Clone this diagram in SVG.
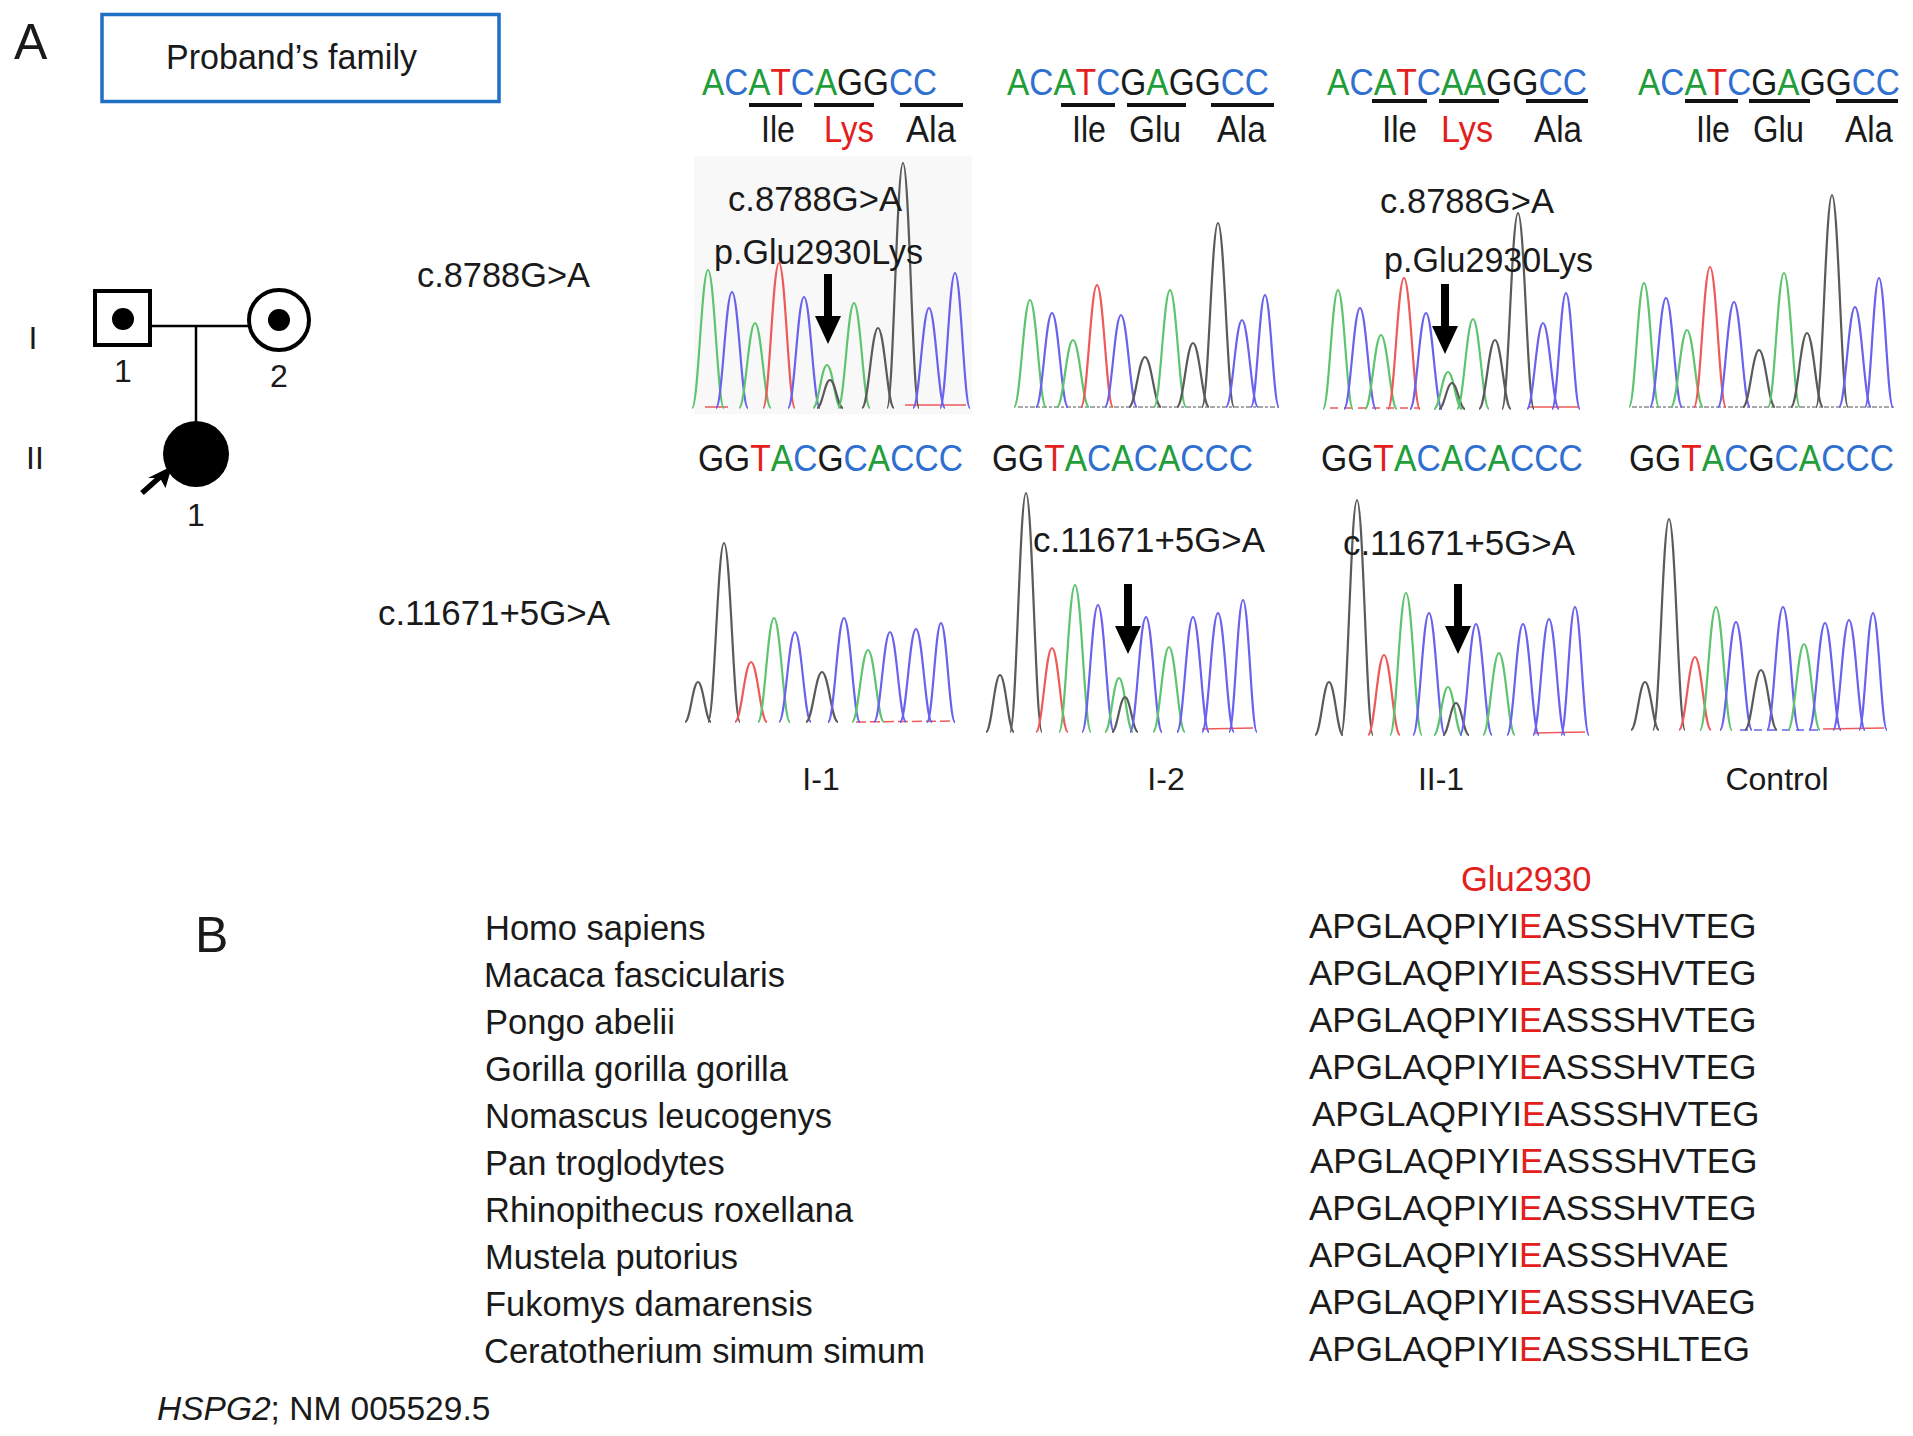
<svg xmlns="http://www.w3.org/2000/svg" xmlns:xlink="http://www.w3.org/1999/xlink" width="1913" height="1436" viewBox="0 0 1913 1436">
<style>
text{font-family:"Liberation Sans",Arial,Helvetica,sans-serif;fill:#1a1a1a}
.t34{font-size:35px}
.seq{font-size:37px}
.aa{font-size:36px}
.lbl{font-size:50px}
.gen{font-size:32px}
.sp{font-size:34.5px}
.ps{font-size:35px}
.nG{fill:#1f9e3a}.nC{fill:#2f6fd0}.nT{fill:#e3201c}.nK{fill:#1a1a1a}
.red{fill:#e3201c}
.bar{stroke:#111;stroke-width:4}
.pg{fill:none;stroke:#000;stroke-width:4}
.con{stroke:#000;stroke-width:2.5;fill:none}
.g{stroke:#5fc46f}.b{stroke:#6a62ee}.r{stroke:#ee5a5a}.k{stroke:#5a5a5a}
.tr use{fill:none;stroke-width:2.2}
.noise{stroke-width:1.5;fill:none}
.arr{fill:#000}
</style>
<defs>
<path id="pk" d="M-1,0 C-0.6,0 -0.4,-1 0,-1 C0.4,-1 0.6,0 1,0" vector-effect="non-scaling-stroke"/>
<path id="dn" d="M-4,0 H4 V42 H13 L0,70 L-13,42 H-4 Z"/>
</defs>
<rect width="1913" height="1436" fill="#fff"/>

<g id="label-A"><text class="lbl" x="14" y="59">A</text></g>
<g id="title-box">
<rect x="102" y="14.5" width="397" height="87" fill="none" stroke="#1f6fc5" stroke-width="3.5"/>
<text class="t34" x="166" y="69" textLength="251" lengthAdjust="spacingAndGlyphs">Proband’s family</text>
</g>

<g id="connectors">
<line class="con" x1="150" y1="326" x2="249" y2="326"/>
<line class="con" x1="196" y1="326" x2="196" y2="422"/>
</g>
<g id="pedigree-I-1">
<rect class="pg" x="95" y="291" width="55" height="54"/>
<circle cx="123" cy="319" r="11" fill="#000"/>
<text class="gen" x="123" y="382" text-anchor="middle">1</text>
</g>
<g id="pedigree-I-2">
<circle class="pg" cx="279" cy="320" r="30"/>
<circle cx="279" cy="320" r="11" fill="#000"/>
<text class="gen" x="279" y="387" text-anchor="middle">2</text>
</g>
<g id="pedigree-II-1">
<circle cx="196" cy="454" r="33" fill="#000"/>
<line x1="142" y1="493" x2="160" y2="477" stroke="#000" stroke-width="5.5"/>
<polygon points="172,466 165.5,488 160,478 148,478" fill="#000"/>
<text class="gen" x="196" y="526" text-anchor="middle">1</text>
</g>
<g id="generations">
<text class="gen" x="33" y="349" text-anchor="middle">I</text>
<text class="gen" x="35" y="469" text-anchor="middle">II</text>
</g>

<g id="row-labels">
<text class="t34" x="417" y="287" textLength="173" lengthAdjust="spacingAndGlyphs">c.8788G&gt;A</text>
<text class="t34" x="378" y="625" textLength="232" lengthAdjust="spacingAndGlyphs">c.11671+5G&gt;A</text>
</g>

<!-- top sequences -->
<g id="seq-top-1">
<text class="seq" transform="translate(702,95) scale(0.9,1)"><tspan class="nG">A</tspan><tspan class="nC">C</tspan><tspan class="nG">A</tspan><tspan class="nT">T</tspan><tspan class="nC">C</tspan><tspan class="nG">A</tspan><tspan class="nK">GG</tspan><tspan class="nC">CC</tspan></text>
<line class="bar" x1="749" y1="105" x2="802" y2="105"/><line class="bar" x1="814" y1="105" x2="874" y2="105"/><line class="bar" x1="900" y1="105" x2="963" y2="105"/>
<text class="aa" x="761" y="142" textLength="34" lengthAdjust="spacingAndGlyphs">Ile</text><text class="aa red" x="824" y="142" textLength="50" lengthAdjust="spacingAndGlyphs">Lys</text><text class="aa" x="906" y="142" textLength="50" lengthAdjust="spacingAndGlyphs">Ala</text>
</g>
<g id="seq-top-2">
<text class="seq" transform="translate(1007,95) scale(0.904,1)"><tspan class="nG">A</tspan><tspan class="nC">C</tspan><tspan class="nG">A</tspan><tspan class="nT">T</tspan><tspan class="nC">C</tspan><tspan class="nK">G</tspan><tspan class="nG">A</tspan><tspan class="nK">GG</tspan><tspan class="nC">CC</tspan></text>
<line class="bar" x1="1061" y1="105" x2="1115" y2="105"/><line class="bar" x1="1127" y1="105" x2="1186" y2="105"/><line class="bar" x1="1211" y1="105" x2="1274" y2="105"/>
<text class="aa" x="1072" y="142" textLength="34" lengthAdjust="spacingAndGlyphs">Ile</text><text class="aa" x="1129" y="142" textLength="52" lengthAdjust="spacingAndGlyphs">Glu</text><text class="aa" x="1217" y="142" textLength="49" lengthAdjust="spacingAndGlyphs">Ala</text>
</g>
<g id="seq-top-3">
<text class="seq" transform="translate(1327,95) scale(0.91,1)"><tspan class="nG">A</tspan><tspan class="nC">C</tspan><tspan class="nG">A</tspan><tspan class="nT">T</tspan><tspan class="nC">C</tspan><tspan class="nG">AA</tspan><tspan class="nK">GG</tspan><tspan class="nC">CC</tspan></text>
<line class="bar" x1="1372" y1="101" x2="1427" y2="101"/><line class="bar" x1="1439" y1="101" x2="1499" y2="101"/><line class="bar" x1="1526" y1="101" x2="1588" y2="101"/>
<text class="aa" x="1382" y="142" textLength="35" lengthAdjust="spacingAndGlyphs">Ile</text><text class="aa red" x="1441" y="142" textLength="52" lengthAdjust="spacingAndGlyphs">Lys</text><text class="aa" x="1534" y="142" textLength="48" lengthAdjust="spacingAndGlyphs">Ala</text>
</g>
<g id="seq-top-4">
<text class="seq" transform="translate(1638,95) scale(0.904,1)"><tspan class="nG">A</tspan><tspan class="nC">C</tspan><tspan class="nG">A</tspan><tspan class="nT">T</tspan><tspan class="nC">C</tspan><tspan class="nK">G</tspan><tspan class="nG">A</tspan><tspan class="nK">GG</tspan><tspan class="nC">CC</tspan></text>
<line class="bar" x1="1685" y1="101" x2="1738" y2="101"/><line class="bar" x1="1749" y1="101" x2="1810" y2="101"/><line class="bar" x1="1836" y1="101" x2="1898" y2="101"/>
<text class="aa" x="1696" y="142" textLength="34" lengthAdjust="spacingAndGlyphs">Ile</text><text class="aa" x="1753" y="142" textLength="51" lengthAdjust="spacingAndGlyphs">Glu</text><text class="aa" x="1845" y="142" textLength="48" lengthAdjust="spacingAndGlyphs">Ala</text>
</g>

<!-- top chromatograms -->
<g id="chrom-top-1">
<rect x="694" y="156" width="278" height="258" fill="#f8f8f8"/>
<line class="noise r" x1="705" y1="407" x2="728" y2="407"/>
<line class="noise r" x1="905" y1="405" x2="966" y2="405"/>
<g class="tr">
<use href="#pk" class="g" transform="translate(708,408) scale(16,138)"/>
<use href="#pk" class="b" transform="translate(732,408) scale(16,116)"/>
<use href="#pk" class="g" transform="translate(755,408) scale(16,85)"/>
<use href="#pk" class="r" transform="translate(779,408) scale(16,145)"/>
<use href="#pk" class="b" transform="translate(804,408) scale(16,111)"/>
<use href="#pk" class="g" transform="translate(827,408) scale(14,43)"/>
<use href="#pk" class="k" transform="translate(830,408) scale(13,28)"/>
<use href="#pk" class="g" transform="translate(854,408) scale(16,105)"/>
<use href="#pk" class="k" transform="translate(878,408) scale(16,80)"/>
<use href="#pk" class="k" transform="translate(903,408) scale(16,245)"/>
<use href="#pk" class="b" transform="translate(929,408) scale(16,100)"/>
<use href="#pk" class="b" transform="translate(955,408) scale(15,135)"/>
</g>
<text class="t34" x="728" y="211" textLength="174" lengthAdjust="spacingAndGlyphs">c.8788G&gt;A</text>
<text class="t34" x="714" y="264" textLength="209" lengthAdjust="spacingAndGlyphs">p.Glu2930Lys</text>
<use href="#dn" class="arr" transform="translate(828,274)"/>
</g>
<g id="chrom-top-2">
<line class="noise k" x1="1018" y1="407" x2="1279" y2="407" stroke-dasharray="5 2 3 2" stroke-opacity="0.7"/>
<g class="tr">
<use href="#pk" class="g" transform="translate(1030,407) scale(16,107)"/>
<use href="#pk" class="b" transform="translate(1052,407) scale(16,94)"/>
<use href="#pk" class="g" transform="translate(1073,407) scale(16,67)"/>
<use href="#pk" class="r" transform="translate(1097,407) scale(16,122)"/>
<use href="#pk" class="b" transform="translate(1121,407) scale(16,92)"/>
<use href="#pk" class="k" transform="translate(1145,407) scale(16,50)"/>
<use href="#pk" class="g" transform="translate(1170,407) scale(16,117)"/>
<use href="#pk" class="k" transform="translate(1193,407) scale(16,64)"/>
<use href="#pk" class="k" transform="translate(1218,407) scale(16,184)"/>
<use href="#pk" class="b" transform="translate(1242,407) scale(16,87)"/>
<use href="#pk" class="b" transform="translate(1265,407) scale(14,112)"/>
</g>
</g>
<g id="chrom-top-3">
<line class="noise r" x1="1330" y1="408" x2="1420" y2="408" stroke-dasharray="8 6"/>
<line class="noise r" x1="1528" y1="407" x2="1578" y2="407"/>
<g class="tr">
<use href="#pk" class="g" transform="translate(1338,409) scale(15,119)"/>
<use href="#pk" class="b" transform="translate(1360,409) scale(16,101)"/>
<use href="#pk" class="g" transform="translate(1381,409) scale(16,74)"/>
<use href="#pk" class="r" transform="translate(1404,409) scale(16,131)"/>
<use href="#pk" class="b" transform="translate(1426,409) scale(16,96)"/>
<use href="#pk" class="g" transform="translate(1448,409) scale(14,37)"/>
<use href="#pk" class="k" transform="translate(1452,409) scale(13,26)"/>
<use href="#pk" class="g" transform="translate(1473,409) scale(16,90)"/>
<use href="#pk" class="k" transform="translate(1495,409) scale(16,69)"/>
<use href="#pk" class="k" transform="translate(1518,409) scale(16,196)"/>
<use href="#pk" class="b" transform="translate(1543,409) scale(16,86)"/>
<use href="#pk" class="b" transform="translate(1566,409) scale(14,116)"/>
</g>
<text class="t34" x="1380" y="213" textLength="174" lengthAdjust="spacingAndGlyphs">c.8788G&gt;A</text>
<text class="t34" x="1384" y="272" textLength="209" lengthAdjust="spacingAndGlyphs">p.Glu2930Lys</text>
<use href="#dn" class="arr" transform="translate(1445,284)"/>
</g>
<g id="chrom-top-4">
<line class="noise k" x1="1632" y1="407" x2="1894" y2="407" stroke-dasharray="5 2 3 2" stroke-opacity="0.7"/>
<g class="tr">
<use href="#pk" class="g" transform="translate(1644,407) scale(15,124)"/>
<use href="#pk" class="b" transform="translate(1666,407) scale(16,109)"/>
<use href="#pk" class="g" transform="translate(1687,407) scale(16,77)"/>
<use href="#pk" class="r" transform="translate(1710,407) scale(16,140)"/>
<use href="#pk" class="b" transform="translate(1734,407) scale(16,105)"/>
<use href="#pk" class="k" transform="translate(1759,407) scale(16,57)"/>
<use href="#pk" class="g" transform="translate(1784,407) scale(16,134)"/>
<use href="#pk" class="k" transform="translate(1807,407) scale(16,74)"/>
<use href="#pk" class="k" transform="translate(1832,407) scale(16,212)"/>
<use href="#pk" class="b" transform="translate(1855,407) scale(16,100)"/>
<use href="#pk" class="b" transform="translate(1879,407) scale(14,129)"/>
</g>
</g>

<!-- bottom sequences -->
<g id="seq-bot-1"><text class="seq" transform="translate(698,471) scale(0.908,1)"><tspan class="nK">GG</tspan><tspan class="nT">T</tspan><tspan class="nG">A</tspan><tspan class="nC">C</tspan><tspan class="nK">G</tspan><tspan class="nC">C</tspan><tspan class="nG">A</tspan><tspan class="nC">CCC</tspan></text></g>
<g id="seq-bot-2"><text class="seq" transform="translate(992,471) scale(0.907,1)"><tspan class="nK">GG</tspan><tspan class="nT">T</tspan><tspan class="nG">A</tspan><tspan class="nC">C</tspan><tspan class="nG">A</tspan><tspan class="nC">C</tspan><tspan class="nG">A</tspan><tspan class="nC">CCC</tspan></text></g>
<g id="seq-bot-3"><text class="seq" transform="translate(1321,471) scale(0.91,1)"><tspan class="nK">GG</tspan><tspan class="nT">T</tspan><tspan class="nG">A</tspan><tspan class="nC">C</tspan><tspan class="nG">A</tspan><tspan class="nC">C</tspan><tspan class="nG">A</tspan><tspan class="nC">CCC</tspan></text></g>
<g id="seq-bot-4"><text class="seq" transform="translate(1629,471) scale(0.908,1)"><tspan class="nK">GG</tspan><tspan class="nT">T</tspan><tspan class="nG">A</tspan><tspan class="nC">C</tspan><tspan class="nK">G</tspan><tspan class="nC">C</tspan><tspan class="nG">A</tspan><tspan class="nC">CCC</tspan></text></g>

<!-- bottom chromatograms -->
<g id="chrom-bot-1">
<line class="noise r" x1="856" y1="722" x2="952" y2="721" stroke-dasharray="10 4"/>
<g class="tr">
<use href="#pk" class="k" transform="translate(698,722) scale(13,40)"/>
<use href="#pk" class="k" transform="translate(724,722) scale(16,179)"/>
<use href="#pk" class="r" transform="translate(751,722) scale(16,60)"/>
<use href="#pk" class="g" transform="translate(774,722) scale(16,104)"/>
<use href="#pk" class="b" transform="translate(795,722) scale(16,90)"/>
<use href="#pk" class="k" transform="translate(822,722) scale(16,50)"/>
<use href="#pk" class="b" transform="translate(844,722) scale(16,104)"/>
<use href="#pk" class="g" transform="translate(868,722) scale(16,72)"/>
<use href="#pk" class="b" transform="translate(890,722) scale(16,90)"/>
<use href="#pk" class="b" transform="translate(916,722) scale(16,93)"/>
<use href="#pk" class="b" transform="translate(941,722) scale(14,99)"/>
</g>
<text class="gen" x="821" y="790" text-anchor="middle">I-1</text>
</g>
<g id="chrom-bot-2">
<line class="noise r" x1="1202" y1="729" x2="1253" y2="728"/>
<g class="tr">
<use href="#pk" class="k" transform="translate(1000,732) scale(14,57)"/>
<use href="#pk" class="k" transform="translate(1026,732) scale(16,239)"/>
<use href="#pk" class="r" transform="translate(1052,732) scale(16,84)"/>
<use href="#pk" class="g" transform="translate(1075,732) scale(16,147)"/>
<use href="#pk" class="b" transform="translate(1098,732) scale(16,127)"/>
<use href="#pk" class="g" transform="translate(1119,732) scale(14,54)"/>
<use href="#pk" class="k" transform="translate(1125,732) scale(13,35)"/>
<use href="#pk" class="b" transform="translate(1146,732) scale(16,115)"/>
<use href="#pk" class="g" transform="translate(1169,732) scale(16,85)"/>
<use href="#pk" class="b" transform="translate(1193,732) scale(16,115)"/>
<use href="#pk" class="b" transform="translate(1218,732) scale(16,119)"/>
<use href="#pk" class="b" transform="translate(1243,732) scale(14,132)"/>
</g>
<text class="t34" x="1033" y="552" textLength="232" lengthAdjust="spacingAndGlyphs">c.11671+5G&gt;A</text>
<use href="#dn" class="arr" transform="translate(1128,584)"/>
<text class="gen" x="1166" y="790" text-anchor="middle">I-2</text>
</g>
<g id="chrom-bot-3">
<line class="noise r" x1="1534" y1="733" x2="1585" y2="732"/>
<g class="tr">
<use href="#pk" class="k" transform="translate(1329,735) scale(14,53)"/>
<use href="#pk" class="k" transform="translate(1357,735) scale(16,235)"/>
<use href="#pk" class="r" transform="translate(1384,735) scale(16,80)"/>
<use href="#pk" class="g" transform="translate(1406,735) scale(16,142)"/>
<use href="#pk" class="b" transform="translate(1429,735) scale(16,122)"/>
<use href="#pk" class="g" transform="translate(1448,735) scale(14,48)"/>
<use href="#pk" class="k" transform="translate(1456,735) scale(13,32)"/>
<use href="#pk" class="b" transform="translate(1476,735) scale(16,111)"/>
<use href="#pk" class="g" transform="translate(1499,735) scale(16,82)"/>
<use href="#pk" class="b" transform="translate(1523,735) scale(16,111)"/>
<use href="#pk" class="b" transform="translate(1549,735) scale(16,116)"/>
<use href="#pk" class="b" transform="translate(1575,735) scale(14,128)"/>
</g>
<text class="t34" x="1343" y="555" textLength="232" lengthAdjust="spacingAndGlyphs">c.11671+5G&gt;A</text>
<use href="#dn" class="arr" transform="translate(1458,584)"/>
<text class="gen" x="1441" y="790" text-anchor="middle">II-1</text>
</g>
<g id="chrom-bot-4">
<line class="noise r" x1="1823" y1="729" x2="1884" y2="728"/>
<line class="noise b" x1="1740" y1="730" x2="1820" y2="730" stroke-dasharray="8 6"/>
<g class="tr">
<use href="#pk" class="k" transform="translate(1645,730) scale(14,48)"/>
<use href="#pk" class="k" transform="translate(1669,730) scale(16,211)"/>
<use href="#pk" class="r" transform="translate(1695,730) scale(16,73)"/>
<use href="#pk" class="g" transform="translate(1716,730) scale(16,123)"/>
<use href="#pk" class="b" transform="translate(1736,730) scale(16,108)"/>
<use href="#pk" class="k" transform="translate(1761,730) scale(16,60)"/>
<use href="#pk" class="b" transform="translate(1783,730) scale(16,123)"/>
<use href="#pk" class="g" transform="translate(1804,730) scale(16,86)"/>
<use href="#pk" class="b" transform="translate(1825,730) scale(16,107)"/>
<use href="#pk" class="b" transform="translate(1849,730) scale(16,110)"/>
<use href="#pk" class="b" transform="translate(1873,730) scale(14,117)"/>
</g>
<text class="gen" x="1777" y="790" text-anchor="middle">Control</text>
</g>

<!-- Panel B -->
<g id="label-B"><text class="lbl" x="195" y="952">B</text></g>
<g id="species">
<text class="sp" x="485" y="940">Homo sapiens</text>
<text class="sp" x="484" y="987">Macaca fascicularis</text>
<text class="sp" x="485" y="1034">Pongo abelii</text>
<text class="sp" x="485" y="1081">Gorilla gorilla gorilla</text>
<text class="sp" x="485" y="1128">Nomascus leucogenys</text>
<text class="sp" x="485" y="1175">Pan troglodytes</text>
<text class="sp" x="485" y="1222">Rhinopithecus roxellana</text>
<text class="sp" x="485" y="1269">Mustela putorius</text>
<text class="sp" x="485" y="1316">Fukomys damarensis</text>
<text class="sp" x="484" y="1363">Ceratotherium simum simum</text>
</g>
<g id="alignment">
<text class="sp red" x="1461" y="891">Glu2930</text>
<text class="ps" x="1309" y="938">APGLAQPIYI<tspan class="red">E</tspan>ASSSHVTEG</text>
<text class="ps" x="1309" y="985">APGLAQPIYI<tspan class="red">E</tspan>ASSSHVTEG</text>
<text class="ps" x="1309" y="1032">APGLAQPIYI<tspan class="red">E</tspan>ASSSHVTEG</text>
<text class="ps" x="1309" y="1079">APGLAQPIYI<tspan class="red">E</tspan>ASSSHVTEG</text>
<text class="ps" x="1312" y="1126">APGLAQPIYI<tspan class="red">E</tspan>ASSSHVTEG</text>
<text class="ps" x="1310" y="1173">APGLAQPIYI<tspan class="red">E</tspan>ASSSHVTEG</text>
<text class="ps" x="1309" y="1220">APGLAQPIYI<tspan class="red">E</tspan>ASSSHVTEG</text>
<text class="ps" x="1309" y="1267">APGLAQPIYI<tspan class="red">E</tspan>ASSSHVAE</text>
<text class="ps" x="1309" y="1314">APGLAQPIYI<tspan class="red">E</tspan>ASSSHVAEG</text>
<text class="ps" x="1309" y="1361">APGLAQPIYI<tspan class="red">E</tspan>ASSSHLTEG</text>
</g>
<g id="footnote"><text class="t34" x="157" y="1420" style="font-size:33.5px"><tspan font-style="italic">HSPG2</tspan>; NM 005529.5</text></g>
</svg>
